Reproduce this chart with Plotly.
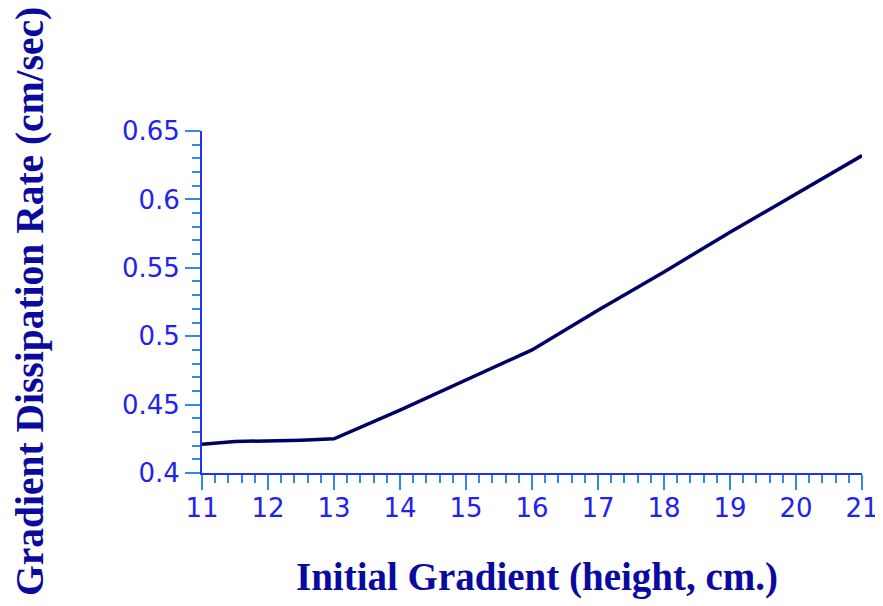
import plotly.graph_objects as go

x_vals = [11, 11.5, 12.5, 13, 14, 15, 16, 17, 18, 19, 20, 21]
y_vals = [0.421, 0.423, 0.424, 0.425, 0.446, 0.468, 0.490, 0.519, 0.547, 0.576, 0.604, 0.632]

x_title = "Initial Gradient (height, cm.)"
y_title = "Gradient Dissipation Rate (cm/sec)"

axis_blue = "#2233ee"
tick_blue = "#3388ee"
label_blue = "#2222ee"
title_navy = "#0a0aa0"

fig = go.Figure(go.Scatter(x=x_vals, y=y_vals, mode="lines",
                           line=dict(color="#000066", width=3.5)))

fig.update_layout(
    width=875, height=598,
    margin=dict(l=194, r=21, t=123, b=133),
    plot_bgcolor="white", paper_bgcolor="white",
    showlegend=False,
    xaxis=dict(range=[11, 21], tickvals=list(range(11, 22)), automargin=False,
               showline=True, linecolor=axis_blue, linewidth=2,
               ticks="outside", ticklen=15, tickwidth=2, tickcolor=tick_blue,
               minor=dict(dtick=0.2, ticks="outside", ticklen=8, tickwidth=2, tickcolor=tick_blue),
               showgrid=False, zeroline=False, ticklabelstandoff=-4,
               tickfont=dict(family="DejaVu Sans", size=26, color=label_blue)),
    yaxis=dict(range=[0.4, 0.65], tickvals=[0.4, 0.45, 0.5, 0.55, 0.6, 0.65], automargin=False,
               ticktext=["0.4", "0.45", "0.5", "0.55", "0.6", "0.65"],
               showline=True, linecolor=axis_blue, linewidth=2,
               ticks="outside", ticklen=15, tickwidth=2, tickcolor=tick_blue,
               minor=dict(dtick=0.01, ticks="outside", ticklen=8, tickwidth=2, tickcolor=tick_blue),
               showgrid=False, zeroline=False,
               tickfont=dict(family="DejaVu Sans", size=26, color=label_blue)),
    annotations=[
        dict(text=x_title, xref="paper", yref="paper", x=0.508, y=0, yanchor="middle",
             yshift=-104, showarrow=False,
             font=dict(family="Liberation Serif", size=39, color=title_navy, weight="bold")),
        dict(text=y_title, xref="paper", yref="paper", x=0, y=0.5, xanchor="center", yanchor="middle",
             xshift=-172, yshift=0, textangle=-90, showarrow=False,
             font=dict(family="Liberation Serif", size=39.5, color=title_navy, weight="bold")),
    ],
)

fig.write_html("out.html")
